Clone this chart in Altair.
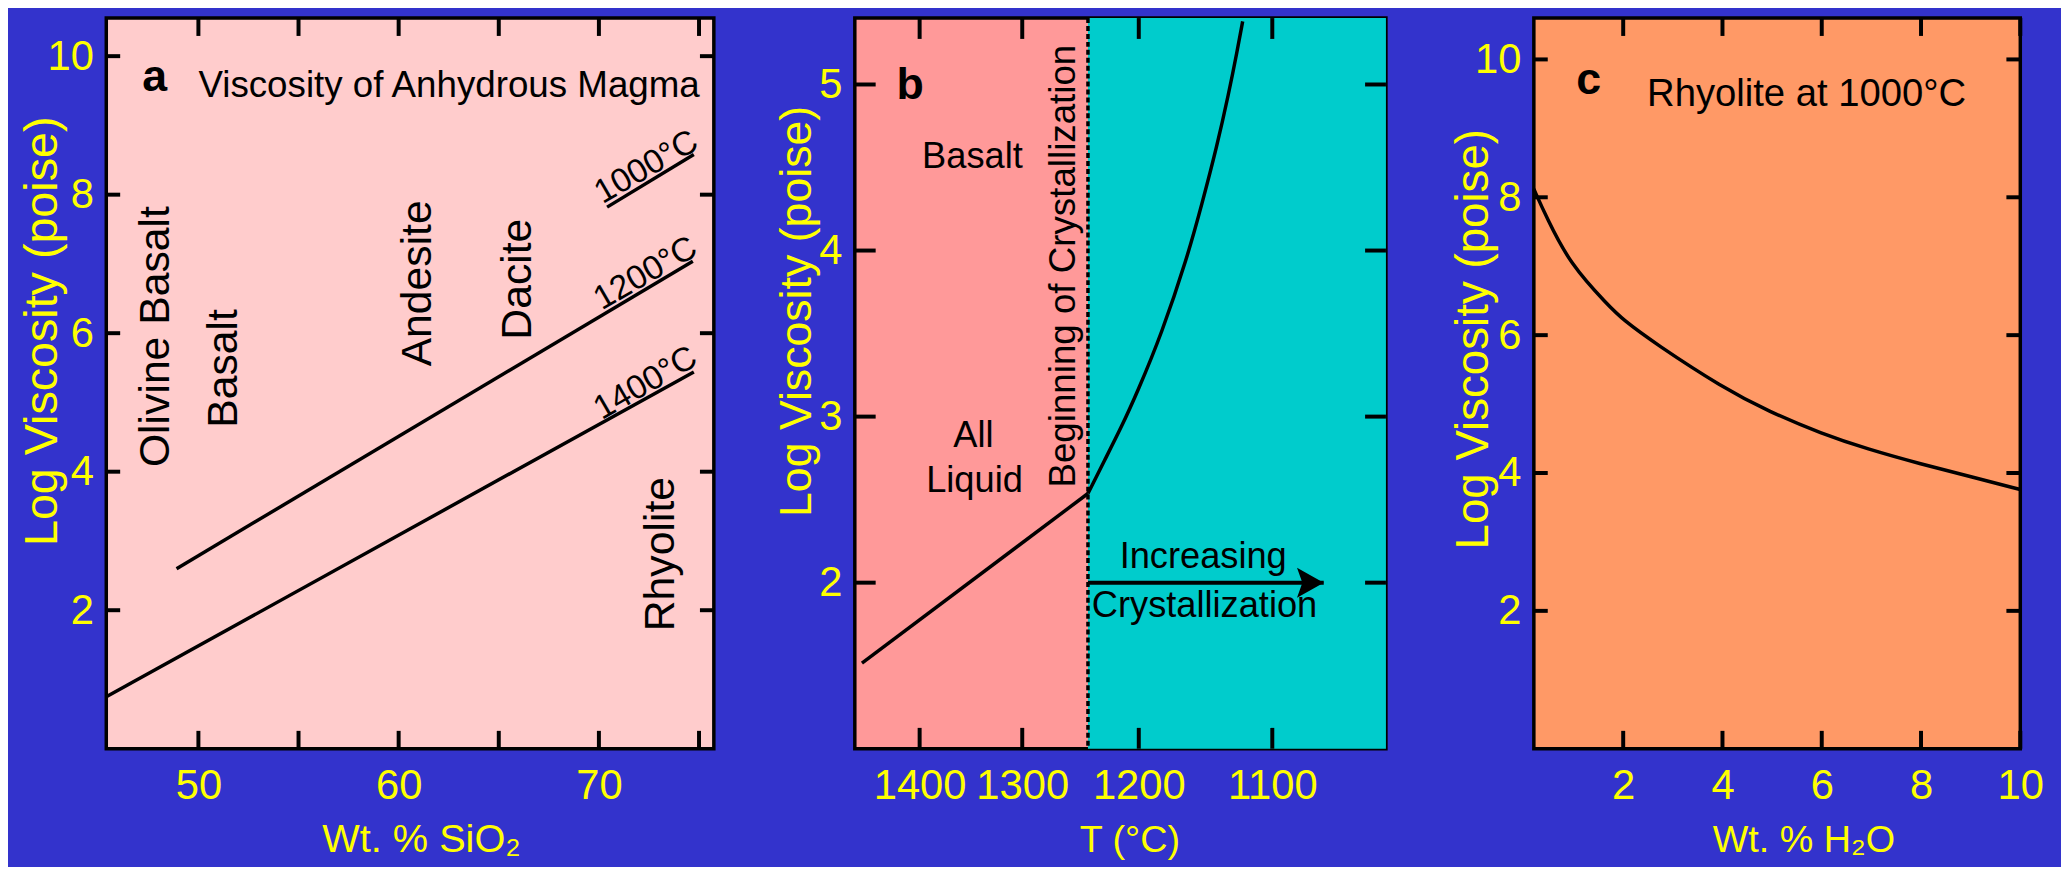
import altair as alt
import pandas as pd

BG = "#3333CC"
YEL = "#FFFF00"
FONT = "Liberation Sans"

H = 736
W_A, W_B, W_C = 612, 535, 490

# ---------------- Panel a data ----------------
A_X_DOMAIN = [45.4, 75.74]
A_Y_DOMAIN = [0.0, 10.55]
A_X_TICKS = [50, 55, 60, 65, 70, 75]
A_X_LABELS = [50, 60, 70]
A_Y_TICKS = [2, 4, 6, 8, 10]
A_SERIES = ["1000°C", "1200°C", "1400°C"]
A_SIO2 = [[70.41, 74.74], [48.91, 74.69], [45.4, 74.74]]
A_LOGV = [[7.82, 8.58], [2.60, 7.04], [0.75, 5.44]]
A_ROCKS = ["Olivine Basalt", "Basalt", "Andesite", "Dacite", "Rhyolite"]
A_ROCK_X = [48.51, 51.92, 61.60, 66.60, 73.77]
A_ROCK_Y = [5.95, 5.49, 6.72, 6.78, 2.81]
A_TEMP_X = [72.62, 72.58, 72.58]
A_TEMP_Y = [8.27, 6.735, 5.15]
A_LETTER = ["a"]
A_LETTER_X = [47.82]
A_LETTER_Y = [9.495]
A_TITLE = ["Viscosity of Anhydrous Magma"]
A_TITLE_X = [50.0]
A_TITLE_Y = [9.405]

# ---------------- Panel b data ----------------
B_T_DOMAIN = [1470, 1025]
B_Y_DOMAIN = [1.0, 5.4]
B_X_TICKS = [1400, 1300, 1200, 1100]
B_Y_TICKS = [2, 3, 4, 5]
B_LIQ_T = [1462, 1242]
B_LIQ_V = [1.515, 2.537]
B_CRY_T = [1242, 1228, 1214, 1201, 1182, 1162, 1151, 1140, 1131, 1125, 1121]
B_CRY_V = [2.537, 2.737, 2.938, 3.15, 3.496, 3.959, 4.279, 4.62, 4.95, 5.20, 5.38]
B_T_CRYST = [1242]
B_ARROW_T = [1242, 1065]
B_ARROW_V = [2.0, 2.0]
B_LABELS = ["Basalt", "All", "Liquid", "Increasing", "Crystallization"]
B_LABEL_T = [1347, 1346, 1345, 1150, 1149]
B_LABEL_V = [4.496, 2.814, 2.547, 2.086, 1.796]
B_ROT = ["Beginning of Crystallization"]
B_ROT_T = [1253]
B_ROT_V = [3.906]
B_LETTER = ["b"]
B_LETTER_T = [1410]
B_LETTER_V = [4.912]

# ---------------- Panel c data ----------------
C_X_DOMAIN = [0.2, 10.0]
C_Y_DOMAIN = [0.0, 10.6]
C_X_TICKS = [2, 4, 6, 8, 10]
C_Y_TICKS = [2, 4, 6, 8, 10]
C_H2O = [0.2, 0.46, 0.93, 1.70, 2.0, 2.64, 4.0, 4.94, 6.0, 6.91, 8.0, 9.04, 10.0]
C_LOGV = [8.12, 7.70, 7.03, 6.43, 6.22, 5.88, 5.24, 4.89, 4.57, 4.35, 4.13, 3.94, 3.76]
C_LETTER = ["c"]
C_LETTER_X = [1.304]
C_LETTER_Y = [9.5]
C_TITLE = ["Rhyolite at 1000°C"]
C_TITLE_X = [2.48]
C_TITLE_Y = [9.32]


def inv(t):
    # reciprocal absolute temperature axis (as in the original figure)
    return 10000.0 / (t + 273.0)


def xaxis(values, title, title_x, size, label_expr=None):
    kw = dict(values=values, title=title, labelPadding=17, titleX=title_x, titleY=104,
              titleAlign="center", titleBaseline="alphabetic", titleAngle=0,
              titleFont=FONT, titleFontSize=size)
    if label_expr:
        kw["labelExpr"] = label_expr
    else:
        kw["format"] = "d"
    return alt.Axis(**kw)


def yaxis(values, title, title_x, title_y, size):
    return alt.Axis(values=values, title=title, format="d", labelPadding=13,
                    labelBaseline="middle", titleAngle=270, titleAlign="center",
                    titleBaseline="alphabetic", titleX=title_x, titleY=title_y,
                    titleFont=FONT, titleFontSize=size)


def tick_layers(xticks, yticks, xs, ys, W, xlen, ylen):
    dx = pd.DataFrame({"x": xticks})
    dy = pd.DataFrame({"y": yticks})
    r = dict(color="black", strokeWidth=4)
    X = alt.X("x:Q", scale=xs)
    Y = alt.Y("y:Q", scale=ys)
    return [
        alt.Chart(dx).mark_rule(**r).encode(x=X, y=alt.value(H), y2=alt.value(H - xlen)),
        alt.Chart(dx).mark_rule(**r).encode(x=X, y=alt.value(0), y2=alt.value(xlen)),
        alt.Chart(dy).mark_rule(**r).encode(y=Y, x=alt.value(0), x2=alt.value(ylen)),
        alt.Chart(dy).mark_rule(**r).encode(y=Y, x=alt.value(W - ylen), x2=alt.value(W)),
    ]


def text_layer(texts, xs_vals, ys_vals, xs, ys, **mk):
    df = pd.DataFrame({"x": xs_vals, "y": ys_vals, "t": texts})
    return alt.Chart(df).mark_text(color="black", font=FONT, baseline="alphabetic", **mk).encode(
        x=alt.X("x:Q", scale=xs), y=alt.Y("y:Q", scale=ys), text="t:N")


# ================= Panel a =================
xs_a = alt.Scale(domain=A_X_DOMAIN, nice=False, zero=False)
ys_a = alt.Scale(domain=A_Y_DOMAIN, nice=False, zero=False)
rows = []
for s, xv, yv in zip(A_SERIES, A_SIO2, A_LOGV):
    for x, y in zip(xv, yv):
        rows.append({"x": x, "y": y, "s": s})
df_a = pd.DataFrame(rows)
lines_a = alt.Chart(df_a).mark_line(color="black", strokeWidth=3.5).encode(
    x=alt.X("x:Q", scale=xs_a, axis=xaxis(A_X_LABELS, "Wt. % SiO₂", 317, 40)),
    y=alt.Y("y:Q", scale=ys_a, axis=yaxis(A_Y_TICKS, "Log Viscosity (poise)", -50, 315, 47)),
    detail="s:N",
)
pa = alt.layer(
    lines_a,
    *tick_layers(A_X_TICKS, A_Y_TICKS, xs_a, ys_a, W_A, 18, 14),
    text_layer(A_ROCKS, A_ROCK_X, A_ROCK_Y, xs_a, ys_a, fontSize=43, angle=270, align="center"),
    text_layer(A_SERIES, A_TEMP_X, A_TEMP_Y, xs_a, ys_a, fontSize=34, angle=330, align="center"),
    text_layer(A_LETTER, A_LETTER_X, A_LETTER_Y, xs_a, ys_a, fontSize=45, fontWeight="bold",
               align="center"),
    text_layer(A_TITLE, A_TITLE_X, A_TITLE_Y, xs_a, ys_a, fontSize=37, align="left"),
).properties(width=W_A, height=H,
             view=alt.ViewBackground(fill="#FFCCCC", stroke="black", strokeWidth=3.5))

# ================= Panel b =================
xs_b = alt.Scale(domain=[inv(B_T_DOMAIN[0]), inv(B_T_DOMAIN[1])], nice=False, zero=False)
ys_b = alt.Scale(domain=B_Y_DOMAIN, nice=False, zero=False)
df_rect = pd.DataFrame({"x": [inv(B_T_CRYST[0])], "x2": [inv(B_T_DOMAIN[1])],
                        "y": [B_Y_DOMAIN[0]], "y2": [B_Y_DOMAIN[1]]})
rect_b = alt.Chart(df_rect).mark_rect(color="#00CCCC").encode(
    x=alt.X("x:Q", scale=xs_b,
            axis=xaxis([inv(t) for t in B_X_TICKS], "T (°C)", 276.5, 38,
                       "toString(round(10000 / datum.value - 273))")),
    x2="x2:Q",
    y=alt.Y("y:Q", scale=ys_b, axis=yaxis(B_Y_TICKS, "Log Viscosity (poise)", -45, 295, 45)),
    y2="y2:Q",
)
rows = [{"x": inv(t), "y": v, "s": "liq", "o": i} for i, (t, v) in enumerate(zip(B_LIQ_T, B_LIQ_V))]
rows += [{"x": inv(t), "y": v, "s": "cry", "o": i} for i, (t, v) in enumerate(zip(B_CRY_T, B_CRY_V))]
lines_b = alt.Chart(pd.DataFrame(rows)).mark_line(color="black", strokeWidth=3.5,
                                                  interpolate="basis").encode(
    x=alt.X("x:Q", scale=xs_b), y=alt.Y("y:Q", scale=ys_b),
    detail="s:N", order="o:Q")
dash_b = alt.Chart(pd.DataFrame({"x": [inv(t) for t in B_T_CRYST]})).mark_rule(
    color="black", strokeWidth=3.5, strokeDash=[5, 3]).encode(x=alt.X("x:Q", scale=xs_b))
arrow_b = alt.Chart(pd.DataFrame({"x": [inv(t) for t in B_ARROW_T], "y": B_ARROW_V})).mark_line(
    color="black", strokeWidth=4).encode(x=alt.X("x:Q", scale=xs_b), y=alt.Y("y:Q", scale=ys_b))
head_b = alt.Chart(pd.DataFrame({"x": [inv(B_ARROW_T[-1])], "y": [B_ARROW_V[-1]]})).mark_point(
    shape="M -1 -0.56 L 0 0 L -1 0.56 L -0.8 0 Z", filled=True, size=2900, color="black",
    opacity=1, strokeWidth=0).encode(x=alt.X("x:Q", scale=xs_b), y=alt.Y("y:Q", scale=ys_b))
pb = alt.layer(
    rect_b, dash_b, lines_b, arrow_b, head_b,
    *tick_layers([inv(t) for t in B_X_TICKS], B_Y_TICKS, xs_b, ys_b, W_B, 21, 21),
    text_layer(B_LABELS, [inv(t) for t in B_LABEL_T], B_LABEL_V, xs_b, ys_b,
               fontSize=36.5, align="center"),
    text_layer(B_ROT, [inv(t) for t in B_ROT_T], B_ROT_V, xs_b, ys_b, fontSize=37,
               angle=270, align="center"),
    text_layer(B_LETTER, [inv(t) for t in B_LETTER_T], B_LETTER_V, xs_b, ys_b,
               fontSize=45, fontWeight="bold", align="center"),
).properties(width=W_B, height=H,
             view=alt.ViewBackground(fill="#FF9999", stroke="black", strokeWidth=3.5))

# ================= Panel c =================
xs_c = alt.Scale(domain=C_X_DOMAIN, nice=False, zero=False)
ys_c = alt.Scale(domain=C_Y_DOMAIN, nice=False, zero=False)
line_c = alt.Chart(pd.DataFrame({"x": C_H2O, "y": C_LOGV})).mark_line(
    color="black", strokeWidth=3.5, interpolate="basis").encode(
    x=alt.X("x:Q", scale=xs_c, axis=xaxis(C_X_TICKS, "Wt. % H₂O", 271.5, 38)),
    y=alt.Y("y:Q", scale=ys_c, axis=yaxis(C_Y_TICKS, "Log Viscosity (poise)", -47, 323, 46)),
)
pc = alt.layer(
    line_c,
    *tick_layers(C_X_TICKS, C_Y_TICKS, xs_c, ys_c, W_C, 18, 14),
    text_layer(C_LETTER, C_LETTER_X, C_LETTER_Y, xs_c, ys_c, fontSize=45, fontWeight="bold",
               align="center"),
    text_layer(C_TITLE, C_TITLE_X, C_TITLE_Y, xs_c, ys_c, fontSize=38.5, align="left"),
).properties(width=W_C, height=H,
             view=alt.ViewBackground(fill="#FF9966", stroke="black", strokeWidth=3.5))

left = alt.hconcat(pa, pb, spacing=55)
chart = alt.hconcat(left, pc, spacing=59).properties(
    background=BG, padding={"left": 9, "top": 1, "right": 15, "bottom": 2}
).configure_axis(
    labelColor=YEL, labelFont=FONT, labelFontSize=42, titleColor=YEL,
    titleFontWeight="normal", grid=False, domain=False, ticks=False, tickSize=0,
    labelFlush=False, labelOverlap=False,
)

chart.save("out.html", embed_options={"renderer": "svg", "actions": False})
